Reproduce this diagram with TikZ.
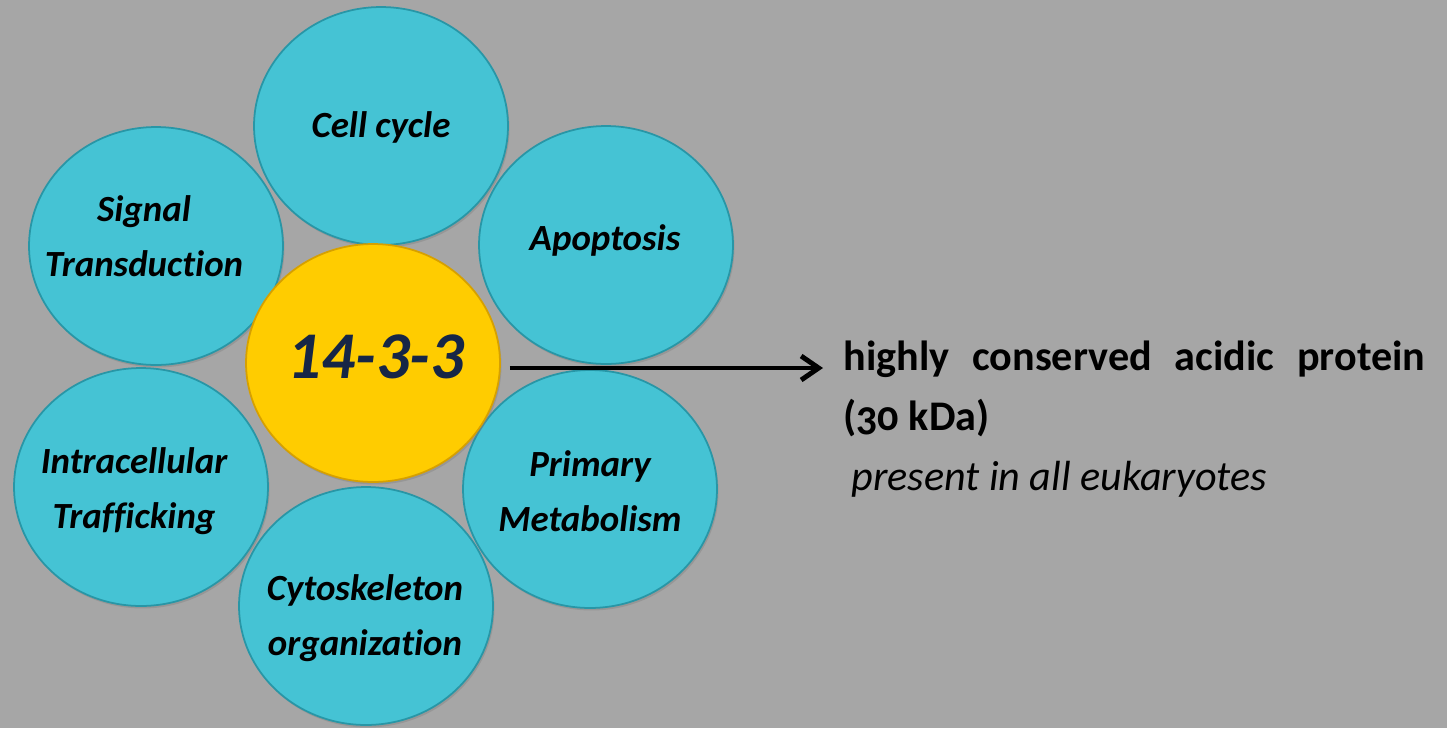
\documentclass[tikz,border=0pt]{standalone}
\usepackage{fontspec}
\setmainfont[Ligatures=NoCommon]{Carlito}
\newfontfamily\notefont[Numbers=OldStyle,Ligatures=NoCommon]{Carlito}
\usetikzlibrary{arrows.meta,positioning,shapes.geometric,shadows}
\definecolor{bggray}{RGB}{166,166,166}
\definecolor{petalfill}{RGB}{69,195,212}
\definecolor{petaledge}{RGB}{40,150,166}
\definecolor{corefill}{RGB}{255,204,0}
\definecolor{coreedge}{RGB}{214,160,0}
\definecolor{corenavy}{RGB}{22,38,70}

\begin{document}
\begin{tikzpicture}[
x=0.02cm,y=-0.02cm,
petal/.style={ellipse,draw=petaledge,fill=petalfill,line width=1pt,minimum width=5.08cm,minimum height=4.76cm,inner sep=0pt,
  drop shadow={shadow xshift=0.03cm,shadow yshift=-0.05cm,opacity=0.4}},
hub/.style={petal,draw=coreedge,fill=corefill},
tag/.style={align=center,inner sep=0pt,font=\fontsize{21}{31}\selectfont\bfseries\itshape},
hubtag/.style={inner sep=0pt,text=corenavy,font=\fontsize{38}{40}\selectfont\bfseries\itshape},
note/.style={anchor=base west,inner sep=0pt,font=\notefont\fontsize{24}{30}\selectfont},
arr/.style={-{Straight Barb[length=3.5mm,width=4.8mm]},line width=2.8pt}
]
\useasboundingbox[fill=bggray] (0,0) rectangle (1447,728);

% ring of functions
\node[petal] (cycle) at (381,126) {};
\node[petal] (signal) at (156,246) {};
\node[petal] (apop) at (606,245) {};
\node[petal] (traff) at (141,487) {};
\node[petal] (metab) at (590,489) {};
\node[petal] (cyto) at (366,606) {};
\node[hub] (core) at (373,363) {};

\node[tag] (cycle-txt) at (381,127) {Cell cycle};
\node[tag] (signal-txt) at (144,236) {Signal\\Transduction};
\node[tag] (apop-txt) at (605,240) {Apoptosis};
\node[tag] (traff-txt) at (134,491) {Intracellular\\Trafficking};
\node[tag] (metab-txt) at (590,491) {Primary\\Metabolism};
\node[tag] (cyto-txt) at (365,618) {Cytoskeleton\\organization};
\node[hubtag] (core-txt) at (376,357) {14-3-3};

% description
\node[note] (line1) at (843,370) {\bfseries\makebox[11.64cm][s]{highly conserved acidic protein}};
\node[note] (line2) at (843,430) {\bfseries (30 kDa)};
\node[note] (line3) at (851,490) {\itshape present in all eukaryotes};

\draw[arr,shorten <=0.18cm,shorten >=0.4cm] ([yshift=-0.1cm]core.east) -- ([yshift=-0.1cm]core.east -| line1.west);
\end{tikzpicture}
\end{document}
